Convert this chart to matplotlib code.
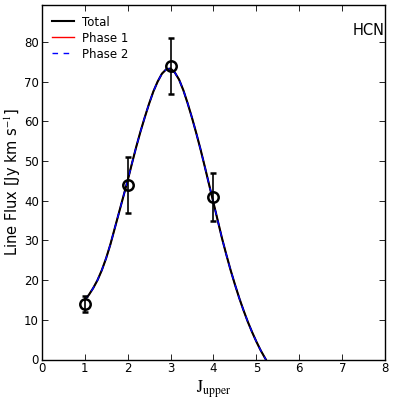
import matplotlib
matplotlib.use("Agg")
import matplotlib.pyplot as plt
import numpy as np

# Observed data
j_obs = [1, 2, 3, 4]
flux_obs = [14, 44, 74, 41]
flux_err = [2, 7, 7, 6]

# Model curves
j_model = [1.0, 1.1, 1.2, 1.3, 1.4, 1.5, 1.6, 1.7, 1.8, 1.9, 2.0, 2.1, 2.2, 2.3, 2.4,
           2.5, 2.6, 2.7, 2.8, 2.9, 3.0, 3.1, 3.2, 3.3, 3.4, 3.5, 3.6, 3.7, 3.8,
           3.9, 4.0, 4.1, 4.2, 4.3, 4.4, 4.5, 4.6, 4.7, 4.8, 4.9, 5.0, 5.1, 5.22]
flux_total = [15.0, 16.3, 18.0, 20.0, 22.5, 25.5, 29.0, 33.0, 37.0, 41.0, 45.0, 49.3,
              53.5, 57.4, 61.0, 64.4, 67.5, 70.0, 72.0, 73.1, 73.3, 72.3, 70.5, 67.8,
              64.5, 60.9, 57.0, 52.9, 48.5, 44.0, 39.5, 35.0, 30.5, 26.4, 22.5, 18.9,
              15.5, 12.4, 9.5, 6.9, 4.5, 2.3, 0.0]
flux_phase1 = flux_total
flux_phase2 = flux_total

plt.rcParams['mathtext.fontset'] = 'stix'
fig = plt.figure(figsize=(3.94, 4.01), dpi=100)
ax = fig.add_axes([41.7/394, 1-359.5/401, (385.2-41.7)/394, (359.5-5)/401])

ax.plot(j_model, flux_phase1, color='red', lw=1.0, label='Phase 1', zorder=2)
ax.plot(j_model, flux_total, color='black', lw=1.5, label='Total', zorder=3)
ax.plot(j_model, flux_phase2, color='blue', lw=1.0, ls=(0, (4, 4)), label='Phase 2', zorder=4)

ax.errorbar(j_obs, flux_obs, yerr=flux_err, fmt='o', mfc='none', mec='black', mew=1.8,
            ms=7.5, ecolor='black', elinewidth=1.2, capsize=2.5, capthick=1.2, zorder=5)

ax.set_xlim(0, 8)
ax.set_ylim(0, 89.3)
ax.set_xticks(range(0, 9))
ax.set_yticks(range(0, 90, 10))
ax.tick_params(direction='in', top=True, right=True, length=4, width=0.6, labelsize=8.5, pad=2)
for s in ax.spines.values():
    s.set_linewidth(1.0)

ax.set_xlabel(r'$\mathrm{J}_{\mathrm{upper}}$', fontsize=12, labelpad=2)
ax.set_ylabel(r'Line Flux [Jy km s$^{-1}$]', fontsize=10.5)
ax.yaxis.set_label_coords(-0.055, 0.5)

ax.text(0.997, 0.927, 'HCN', transform=ax.transAxes, ha='right', va='center', fontsize=10.5)

h, l = ax.get_legend_handles_labels()
order = [1, 0, 2]
ax.legend([h[i] for i in order], [l[i] for i in order], loc='upper left', frameon=False,
          fontsize=8.5, handlelength=1.8, borderaxespad=0.5, labelspacing=0.25, handletextpad=0.75)

fig.savefig('out.png', dpi=100)
